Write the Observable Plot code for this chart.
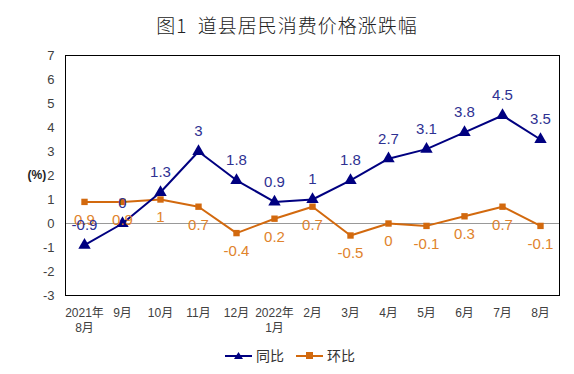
<!DOCTYPE html>
<html>
<head>
<meta charset="utf-8">
<script src="https://cdn.jsdelivr.net/npm/d3@7"></script>
<script src="https://cdn.jsdelivr.net/npm/@observablehq/plot@0.6"></script>
<style>
  html, body { margin: 0; padding: 0; background: #fff; }
  #wrap { width: 574px; height: 374px; position: relative; font-family: "Liberation Sans", "Noto Sans CJK SC", sans-serif; }
  #title { height: 44px; line-height: 50px; text-align: center; font-size: 19px; color: #222; font-family: "Noto Sans CJK SC", sans-serif; font-weight: 300; letter-spacing: 1px; }
  #legend { display: flex; justify-content: center; align-items: center; height: 30px; font-size: 14px; color: #333; padding-left: 6px; }
  #legend .item { display: flex; align-items: center; margin: 0 6px; }
  #legend svg { margin-right: 3px; }
</style>
</head>
<body>
<div id="wrap">
  <div id="title">图1&nbsp;&nbsp;道县居民消费价格涨跌幅</div>
  <div id="chart"></div>
  <div id="legend"></div>
</div>
<script>
const months = ["2021年\n8月", "9月", "10月", "11月", "12月", "2022年\n1月", "2月", "3月", "4月", "5月", "6月", "7月", "8月"];
const yoy = [-0.9, 0, 1.3, 3, 1.8, 0.9, 1, 1.8, 2.7, 3.1, 3.8, 4.5, 3.5];
const mom = [0.9, 0.9, 1, 0.7, -0.4, 0.2, 0.7, -0.5, 0, -0.1, 0.3, 0.7, -0.1];
const yTicks = [-3, -2, -1, 0, 1, 2, 3, 4, 5, 6, 7];
const seriesNames = ["同比", "环比"];

const navy = "#000080";
const navyLabel = "#2E3192";
const orange = "#D2690E";
const orangeLabel = "#E0832C";

const data = months.map((m, i) => ({month: m, yoy: yoy[i], mom: mom[i]}));

const chart = Plot.plot({
  width: 574,
  height: 296,
  marginTop: 11,
  marginBottom: 45,
  marginLeft: 65,
  marginRight: 15,
  x: {type: "point", domain: months, padding: 0.5},
  y: {domain: [-3, 7]},
  style: {fontFamily: "'Liberation Sans', 'Noto Sans CJK SC', sans-serif", fontSize: "12px", color: "#404040", background: "white"},
  marks: [
    Plot.ruleY([0], {stroke: "#999", strokeWidth: 1}),
    Plot.frame({stroke: "#000", strokeWidth: 1}),
    Plot.axisY({ticks: yTicks, tickSize: 0, tickPadding: 11, fontSize: 13, label: null, tickFormat: d => String(d)}),
    Plot.axisX({tickSize: 0, tickPadding: 11, fontSize: 12, lineHeight: 1.25, label: null}),
    Plot.text(["(%)"], {frameAnchor: "left", dx: -38, fontSize: 12, fill: "#222", fontWeight: "bold"}),
    Plot.line(data, {x: "month", y: "mom", stroke: orange, strokeWidth: 2}),
    Plot.dot(data, {x: "month", y: "mom", symbol: "square", r: 3.6, fill: orange}),
    Plot.line(data, {x: "month", y: "yoy", stroke: navy, strokeWidth: 2}),
    Plot.dot(data, {x: "month", y: "yoy", symbol: "triangle", r: 4.6, fill: navy}),
    Plot.text(data, {x: "month", y: "mom", text: d => String(d.mom), dy: 18, fill: orangeLabel, fontSize: 15}),
    Plot.text(data, {x: "month", y: "yoy", text: d => String(d.yoy), dy: -20, fill: navyLabel, fontSize: 15})
  ]
});
document.getElementById("chart").appendChild(chart);

const legend = document.getElementById("legend");
const swatches = [
  {name: seriesNames[0], color: navy, sym: "tri"},
  {name: seriesNames[1], color: orange, sym: "sq"}
];
for (const s of swatches) {
  const item = document.createElement("div");
  item.className = "item";
  const markSvg = s.sym === "tri"
    ? `<polygon points="13.5,6 18,13 9,13" fill="${s.color}"/>`
    : `<rect x="10" y="6" width="7" height="7" fill="${s.color}"/>`;
  item.innerHTML = `<svg width="28" height="18"><line x1="0" y1="10" x2="27" y2="10" stroke="${s.color}" stroke-width="2"/>${markSvg}</svg><span>${s.name}</span>`;
  legend.appendChild(item);
}
</script>
</body>
</html>
